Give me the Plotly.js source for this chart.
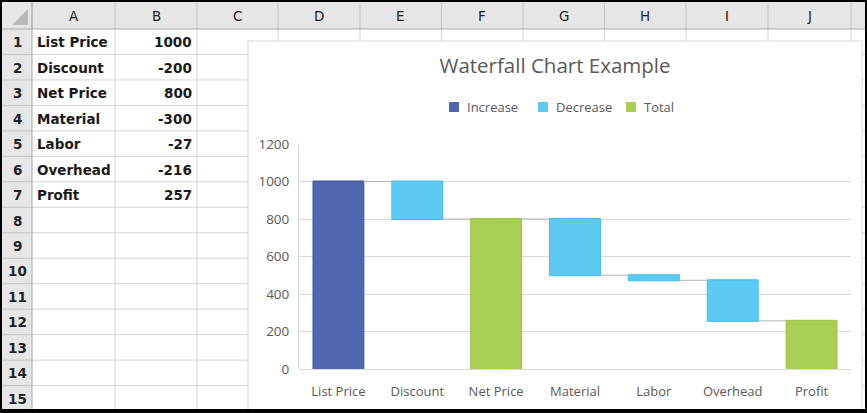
<!DOCTYPE html>
<html>
<head>
<meta charset="utf-8">
<script src="https://cdn.plot.ly/plotly-3.0.1.min.js"></script>
<style>html,body{margin:0;padding:0;background:#fff;}#chart{width:867px;height:413px;}</style>
</head>
<body>
<div id="chart"></div>
<script>
// ---- data ----
const categories = ['List Price', 'Discount', 'Net Price', 'Material', 'Labor', 'Overhead', 'Profit'];
const values = [1000, -200, 800, -300, -27, -216, 257];
const measures = ['relative', 'relative', 'total', 'relative', 'relative', 'relative', 'total'];
const columnLetters = ['A', 'B', 'C', 'D', 'E', 'F', 'G', 'H', 'I', 'J'];
const rowNumbers = [1, 2, 3, 4, 5, 6, 7, 8, 9, 10, 11, 12, 13, 14, 15];
const legendNames = ['Increase', 'Decrease', 'Total'];
const yTicks = [0, 200, 400, 600, 800, 1000, 1200];

// ---- geometry (pixels) ----
const W = 867, H = 413;
const ml = 299, mr = 16, mt = 144, mb = 44;
const pw = W - ml - mr, ph = H - mt - mb;
const X = p => (p - ml) / pw;
const Y = p => 1 - (p - mt) / ph;

const colEdges = [2, 32, 115, 197, 278, 360, 441.5, 523, 604.5, 686, 768, 851, 866];
const rowTop = 29, rowH = 25.47;
const rowEdges = rowNumbers.map((n, i) => rowTop + rowH * i).concat([rowTop + rowH * rowNumbers.length]);

const cIncrease = '#4F66B0', cDecrease = '#5DCAF1', cTotal = '#A9D053';
const textGrey = '#595959';

const shapes = [];
const annotations = [];
function rect(x0, y0, x1, y1, fill, line, layer) {
  shapes.push({type: 'rect', xref: 'paper', yref: 'paper', x0: X(x0), x1: X(x1), y0: Y(y1), y1: Y(y0),
    fillcolor: fill, line: line || {width: 0}, layer: layer || 'below'});
}
function seg(x0, y0, x1, y1, color, width, layer) {
  shapes.push({type: 'line', xref: 'paper', yref: 'paper', x0: X(x0), x1: X(x1), y0: Y(y0), y1: Y(y1),
    line: {color: color, width: width || 1}, layer: layer || 'below'});
}

// header backgrounds
rect(2, 2, W, rowTop, '#E6E6E6');
rect(2, rowTop, 32, H, '#E6E6E6');
// cell grid
const gridC = '#D4D4D4';
colEdges.slice(2, colEdges.length - 1).forEach(x => seg(x, rowTop, x, H, gridC, 1));
rowEdges.slice(1).forEach(y => seg(32, y, W, y, gridC, 1));
// header separators
colEdges.slice(1, colEdges.length - 1).forEach(x => seg(x, 2, x, rowTop, '#C2C2C2', 1));
rowEdges.slice(1).forEach(y => seg(2, y, 32, y, '#C2C2C2', 1));
seg(2, rowTop, W, rowTop, '#A8A8A8', 1);
seg(32, 2, 32, H, '#A8A8A8', 1);
// corner triangle
shapes.push({type: 'path', xref: 'paper', yref: 'paper', layer: 'below',
  path: `M ${X(28)} ${Y(9)} L ${X(28)} ${Y(25)} L ${X(12)} ${Y(25)} Z`, fillcolor: '#B9B9B9', line: {width: 0}});

// header texts
columnLetters.forEach((c, i) => {
  annotations.push({xref: 'paper', yref: 'paper', x: X((colEdges[i + 1] + colEdges[i + 2]) / 2), y: Y(16),
    text: c, showarrow: false, xanchor: 'center', yanchor: 'middle',
    font: {family: 'DejaVu Sans', size: 13.5, color: '#222'}});
});
rowNumbers.forEach((n, i) => {
  annotations.push({xref: 'paper', yref: 'paper', x: X(17), y: Y(rowEdges[i] + rowH / 2 + 0.5),
    text: String(n), showarrow: false, xanchor: 'center', yanchor: 'middle',
    font: {family: 'DejaVu Sans', size: 13.5, color: '#222', weight: 'bold'}});
});
// cell values
categories.forEach((c, i) => {
  const yc = Y(rowEdges[i] + rowH / 2 + 0.5);
  annotations.push({xref: 'paper', yref: 'paper', x: X(35), y: yc, text: c, showarrow: false,
    xanchor: 'left', yanchor: 'middle', font: {family: 'DejaVu Sans', size: 13.5, color: '#1a1a1a', weight: 600}});
  annotations.push({xref: 'paper', yref: 'paper', x: X(194), y: yc, text: String(values[i]), showarrow: false,
    xanchor: 'right', yanchor: 'middle', font: {family: 'DejaVu Sans', size: 13.5, color: '#1a1a1a', weight: 600}});
});

// chart box
rect(248, 41, 862, H + 5, '#FFFFFF', {color: '#D9D9D9', width: 1});

// legend (manual)
const legColors = [cIncrease, cDecrease, cTotal];
const legSq = [449, 538, 626];
legendNames.forEach((n, i) => {
  rect(legSq[i], 102, legSq[i] + 10, 112, legColors[i], {width: 0}, 'above');
  annotations.push({xref: 'paper', yref: 'paper', x: X(legSq[i] + 16), y: Y(107), text: n, showarrow: false,
    xanchor: 'left', yanchor: 'middle', font: {family: 'Open Sans', size: 13, color: textGrey}});
});

// black frame
rect(0, 0, W, 2, '#000', {width: 0}, 'above');
rect(0, 0, 2, H, '#000', {width: 0}, 'above');
rect(0, 409, W, H, '#000', {width: 0}, 'above');
rect(865, 0, W, H, '#000', {width: 0}, 'above');

const trace = {
  type: 'waterfall', x: categories, y: values, measure: measures,
  increasing: {marker: {color: cIncrease, line: {color: '#3F57A3', width: 1}}},
  decreasing: {marker: {color: cDecrease, line: {color: '#3DBEEC', width: 1}}},
  totals: {marker: {color: cTotal, line: {color: '#9CC646', width: 1}}},
  connector: {mode: 'between', visible: true, line: {color: '#B4B4B4', width: 1}},
  showlegend: false, hoverinfo: 'none', textinfo: 'none'
};

const layout = {
  width: W, height: H,
  margin: {l: ml, r: mr, t: mt, b: mb, pad: 0},
  paper_bgcolor: '#FFFFFF', plot_bgcolor: 'rgba(0,0,0,0)',
  showlegend: false,
  waterfallgap: 0.355,
  title: {text: 'Waterfall Chart Example', x: X(555), xref: 'paper', xanchor: 'center',
    y: 1 - 66 / H, yref: 'container', yanchor: 'middle',
    font: {family: 'Open Sans', size: 20.5, color: textGrey}},
  xaxis: {type: 'category', showgrid: false, showline: false, zeroline: false, ticks: '',
    tickfont: {family: 'Open Sans', size: 13, color: textGrey}, ticklabelstandoff: 13, fixedrange: true},
  yaxis: {range: [0, 1200], tickvals: yTicks, ticktext: yTicks.map(String), showgrid: true, gridcolor: '#D9D9D9', gridwidth: 1,
    zeroline: true, zerolinecolor: '#D9D9D9', zerolinewidth: 1,
    showline: true, linecolor: '#D9D9D9', linewidth: 1, ticks: '',
    tickfont: {family: 'Open Sans', size: 13.5, color: textGrey}, ticklabelstandoff: 6, fixedrange: true},
  shapes: shapes,
  annotations: annotations
};

Plotly.newPlot('chart', [trace], layout, {displayModeBar: false, staticPlot: true});
</script>
</body>
</html>
